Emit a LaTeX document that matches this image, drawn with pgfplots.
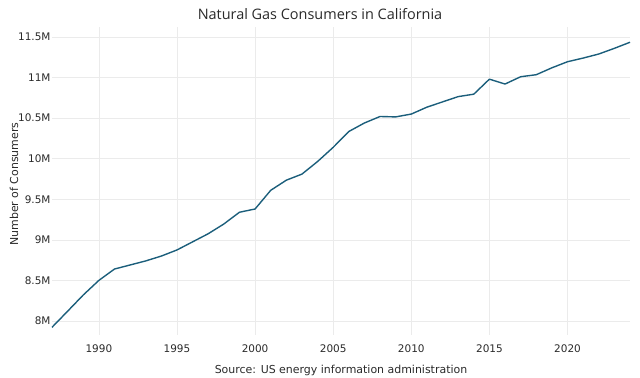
\documentclass[border=0pt]{standalone}
\usepackage{pgfplots}
\pgfplotsset{compat=1.18}
\usepackage{fontspec}
\setmainfont{DejaVu Sans}
\newfontfamily\titlefont{Open Sans}
\definecolor{linec}{HTML}{1B5E7B}
\definecolor{gridc}{HTML}{EBEBEB}
\definecolor{txt}{HTML}{2A2A2A}
\begin{document}
\begin{tikzpicture}
\path[use as bounding box] (0,0) rectangle (640bp,378bp);
\begin{axis}[
  at={(52bp,43bp)}, anchor=south west,
  scale only axis, width=578bp, height=308bp,
  xmin=1987, xmax=2024, ymin=7.827, ymax=11.623,
  axis line style={draw=none},
  tick style={draw=none},
  major tick length=0pt,
  grid=major,
  major grid style={gridc, line width=0.6pt},
  /pgf/number format/assume math mode=true,
  xtick={1990,1995,2000,2005,2010,2015,2020},
  xticklabels={1990,1995,2000,2005,2010,2015,2020},
  ytick={8,8.5,9,9.5,10,10.5,11,11.5},
  yticklabels={8M,8.5M,9M,9.5M,10M,10.5M,11M,11.5M},
  tick label style={font=\fontsize{10.5}{12}\selectfont, text=txt},
  xticklabel style={yshift=-6bp},
  yticklabel style={xshift=2bp},
  clip=false,
]
\addplot[linec, line width=1.4pt, line join=round] coordinates {
(1987,7.922) (1988,8.120) (1989,8.320) (1990,8.500) (1991,8.640)
(1992,8.690) (1993,8.740) (1994,8.800) (1995,8.875) (1996,8.975)
(1997,9.075) (1998,9.195) (1999,9.340) (2000,9.380) (2001,9.610)
(2002,9.735) (2003,9.810) (2004,9.965) (2005,10.140) (2006,10.335)
(2007,10.440) (2008,10.520) (2009,10.515) (2010,10.550) (2011,10.635)
(2012,10.700) (2013,10.765) (2014,10.795) (2015,10.980) (2016,10.920)
(2017,11.010) (2018,11.035) (2019,11.120) (2020,11.195) (2021,11.240)
(2022,11.290) (2023,11.360) (2024,11.435)
};
\end{axis}
\node[font=\titlefont\fontsize{14.5}{16}\selectfont, text=txt] at (320bp,364bp) {Natural Gas Consumers in California};
\node[font=\fontsize{11}{13}\selectfont, text=txt] at (341bp,8bp) {Source: US energy information administration};
\node[font=\fontsize{11}{13}\selectfont, text=txt, rotate=90] at (14bp,194bp) {Number of Consumers};
\end{tikzpicture}
\end{document}
